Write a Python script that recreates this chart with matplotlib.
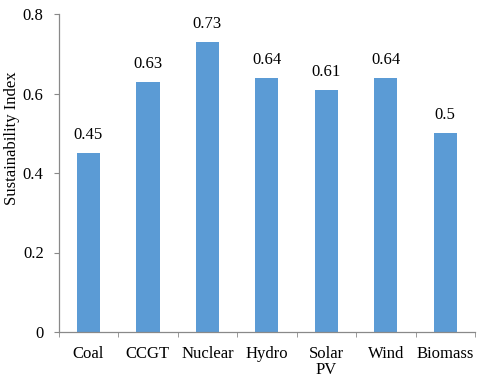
import matplotlib
matplotlib.use("Agg")
import matplotlib.pyplot as plt
import numpy as np

categories = ["Coal", "CCGT", "Nuclear", "Hydro", "Solar\nPV", "Wind", "Biomass"]
values = [0.45, 0.63, 0.73, 0.64, 0.61, 0.64, 0.5]
labels = ["0.45", "0.63", "0.73", "0.64", "0.61", "0.64", "0.5"]
yticks = [0, 0.2, 0.4, 0.6, 0.8]
ytick_labels = ["0", "0.2", "0.4", "0.6", "0.8"]

plt.rcParams['font.family'] = ['Liberation Serif', 'DejaVu Serif']

W, H = 480, 379
fig = plt.figure(figsize=(W / 100, H / 100), dpi=100)
left, right, top, bottom = 58.7, 475, 14, 332
ax = fig.add_axes([left / W, 1 - bottom / H, (right - left) / W, (bottom - top) / H])

x = np.arange(len(categories))
ax.bar(x, values, width=0.39, color="#5B9BD5")
for xi, v, lab in zip(x, values, labels):
    ax.text(xi, v + 0.025, lab, ha="center", va="bottom", fontsize=12)

ax.set_xlim(-0.5, len(categories) - 0.5)
ax.set_ylim(0, 0.8)
ax.set_yticks(yticks)
ax.set_yticklabels(ytick_labels, fontsize=12)
ax.set_xticks(x)
ax.set_xticklabels(categories, fontsize=12, linespacing=1.05)
ax.set_xticks(np.arange(-0.5, len(categories)), minor=True)
ax.tick_params(axis="x", which="major", length=0, pad=10)
ax.tick_params(axis="x", which="minor", length=3.5, color="#898989", direction="out")
ax.tick_params(axis="y", length=3.8, color="#898989", direction="out", pad=7)
for s in ["top", "right"]:
    ax.spines[s].set_visible(False)
for s in ["left", "bottom"]:
    ax.spines[s].set_color("#898989")
    ax.spines[s].set_linewidth(0.9)

fig.text(12 / W, 1 - 138 / H, "Sustainability Index", rotation=90,
         ha="center", va="center", fontsize=12)

fig.savefig("out.png", dpi=100)
